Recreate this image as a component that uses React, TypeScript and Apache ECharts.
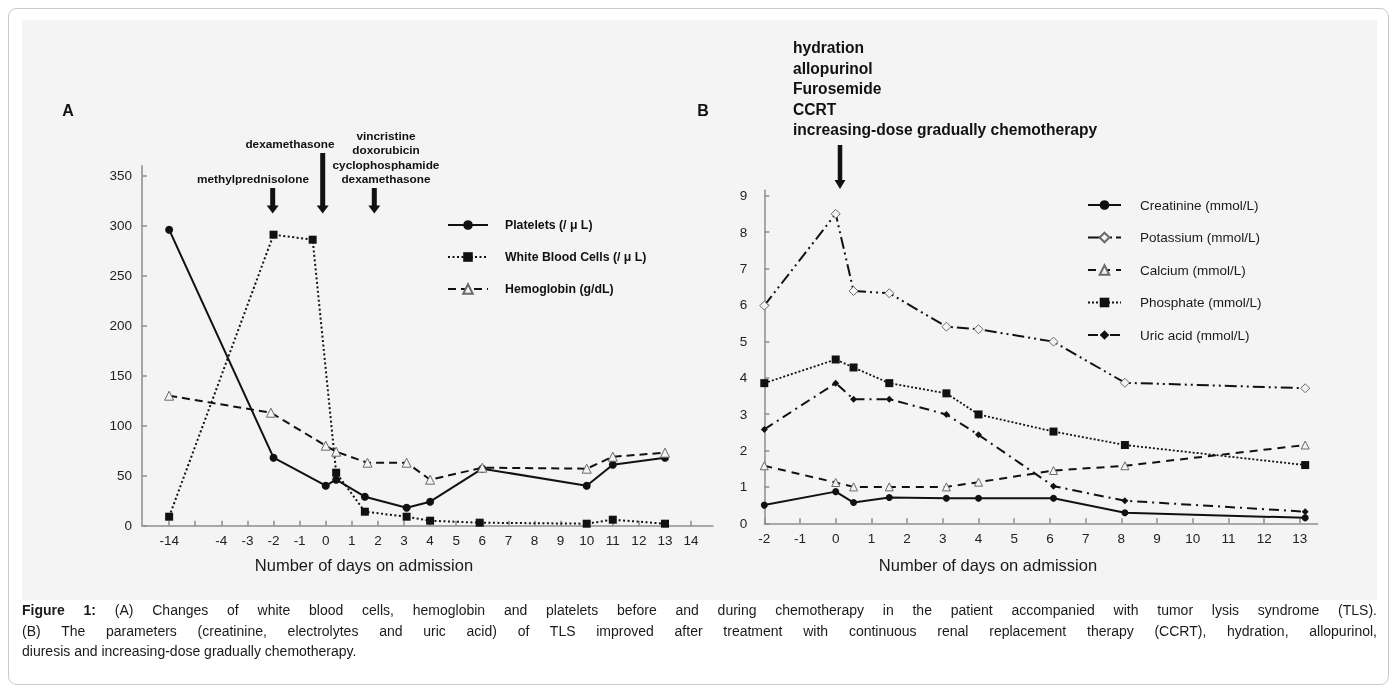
import React, { useEffect, useRef } from 'react';
import * as echarts from 'echarts';

// ---------- Panel A data ----------
const tickLabelsA = ['-14', '', '-4', '-3', '-2', '-1', '0', '1', '2', '3', '4', '5', '6', '7', '8', '9', '10', '11', '12', '13', '14'];
const yTicksA = [0, 50, 100, 150, 200, 250, 300, 350];

const plateletDays = [-14, -2, 0, 0.4, 1.5, 3.1, 4, 6, 10, 11, 13];
const plateletValues = [296, 68, 40, 46, 29, 18, 24, 57, 40, 61, 68];
const wbcDays = [-14, -2, -0.5, 0.4, 1.5, 3.1, 4, 5.9, 10, 11, 13];
const wbcValues = [9, 291, 286, 53, 14, 9, 5, 3, 2, 6, 2];
const hbDays = [-14, -2.1, 0, 0.4, 1.6, 3.1, 4, 6, 10, 11, 13];
const hbValues = [130, 113, 80, 74, 63, 63, 46, 58, 57, 69, 73];

// ---------- Panel B data ----------
const daysB = [-2, 0, 0.5, 1.5, 3.1, 4, 6.1, 8.1, 13.15];
const creatinine = [0.5, 0.87, 0.57, 0.71, 0.69, 0.69, 0.69, 0.29, 0.15];
const potassium = [5.98, 8.5, 6.38, 6.32, 5.4, 5.33, 4.99, 3.86, 3.71];
const calcium = [1.58, 1.12, 1.0, 1.0, 1.0, 1.13, 1.45, 1.58, 2.15];
const phosphate = [3.85, 4.5, 4.28, 3.85, 3.57, 2.99, 2.52, 2.15, 1.6];
const uricAcid = [2.58, 3.85, 3.41, 3.41, 2.99, 2.43, 1.02, 0.62, 0.32];
const xTicksB = [-2, -1, 0, 1, 2, 3, 4, 5, 6, 7, 8, 9, 10, 11, 12, 13];
const yTicksB = [0, 1, 2, 3, 4, 5, 6, 7, 8, 9];

const namesA = ['Platelets (/ μ L)', 'White Blood Cells (/ μ L)', 'Hemoglobin (g/dL)'];
const namesB = ['Creatinine (mmol/L)', 'Potassium (mmol/L)', 'Calcium (mmol/L)', 'Phosphate (mmol/L)', 'Uric acid (mmol/L)'];

const annotA1 = ['methylprednisolone'];
const annotA2 = ['dexamethasone'];
const annotA3 = ['vincristine', 'doxorubicin', 'cyclophosphamide', 'dexamethasone'];
const annotB = ['hydration', 'allopurinol', 'Furosemide', 'CCRT', 'increasing-dose gradually chemotherapy'];

const captionLines = [
  '(A) Changes of white blood cells, hemoglobin and platelets before and during chemotherapy in the patient accompanied with tumor lysis syndrome (TLS).',
  '(B) The parameters (creatinine, electrolytes and uric acid) of TLS improved after treatment with continuous renal replacement therapy (CCRT), hydration, allopurinol,',
  'diuresis and increasing-dose gradually chemotherapy.',
];

const FONT = '"Liberation Sans", Arial, Helvetica, sans-serif';
const INK = '#111';
const BG = '#f4f4f4';

// position of a day on panel A's uneven axis (slot index)
const dayToPosA = (d: number) => (d >= -4 ? d + 6 : 2 + (d + 4) / 5);
const pairsA = (days: number[], vals: number[]) => days.map((d, i) => [dayToPosA(d), vals[i]]);
const pairsB = (vals: number[]) => daysB.map((d, i) => [d, vals[i]]);

const axisLineStyle = { color: '#8e8e8e', width: 1.5 };
const tickLabelStyle = { color: '#222', fontSize: 13.5, fontFamily: FONT };

function arrow(x: number, y1: number, y2: number, w: number, hw: number, hh: number) {
  return [
    { type: 'rect', shape: { x: x - w / 2, y: y1, width: w, height: y2 - hh - y1 + 1 }, style: { fill: INK } },
    { type: 'polygon', shape: { points: [[x - hw / 2, y2 - hh], [x + hw / 2, y2 - hh], [x, y2]] }, style: { fill: INK } },
  ];
}

function textLines(lines: string[], x: number, y0: number, dy: number, font: string, align: string) {
  return lines.map((t, i) => ({
    type: 'text',
    style: { text: t, x, y: y0 + i * dy, fill: INK, font, align, verticalAlign: 'middle' },
  }));
}

function buildOption() {
  const labelPosA = tickLabelsA.map((t, i) => (t ? i : -99)).filter((v) => v >= 0);
  const tickPosA = tickLabelsA.map((_, i) => i);

  const lineSeries = (name: string, xi: number, data: number[][], symbol: string, size: number, dash: any, width: number, hollow: boolean) => ({
    name,
    type: 'line',
    xAxisIndex: xi,
    yAxisIndex: xi,
    data,
    symbol,
    symbolSize: size,
    showSymbol: true,
    lineStyle: { color: INK, width, type: dash },
    itemStyle: hollow ? { color: BG, borderColor: '#6a6a6a', borderWidth: 1 } : { color: INK },
    emphasis: { disabled: true },
    z: 3,
  });

  const boldAnnot = `bold 11.8px ${FONT}`;
  const boldB = `bold 15.6px ${FONT}`;

  return {
    animation: false,
    grid: [
      { left: 142, top: 165.7, width: 571, height: 360 },
      { left: 764.3, top: 190.2, width: 553.4, height: 333.1 },
    ],
    xAxis: [
      {
        gridIndex: 0, type: 'value', min: -1.04, max: 20.84,
        axisLine: { show: true, onZero: false, lineStyle: axisLineStyle },
        axisTick: { show: true, inside: true, length: 5, customValues: tickPosA, lineStyle: axisLineStyle },
        axisLabel: { customValues: labelPosA, margin: 8, formatter: (v: number) => tickLabelsA[Math.round(v)] ?? '', ...tickLabelStyle },
        splitLine: { show: false },
      },
      {
        gridIndex: 1, type: 'value', min: -2, max: 13.5,
        axisLine: { show: true, onZero: false, lineStyle: axisLineStyle },
        axisTick: { show: true, inside: true, length: 5, customValues: xTicksB, lineStyle: axisLineStyle },
        axisLabel: { customValues: xTicksB, margin: 8, ...tickLabelStyle },
        splitLine: { show: false },
      },
    ],
    yAxis: [
      {
        gridIndex: 0, type: 'value', min: 0, max: 360,
        axisLine: { show: true, onZero: false, lineStyle: axisLineStyle },
        axisTick: { show: true, inside: true, length: 5, customValues: yTicksA, lineStyle: axisLineStyle },
        axisLabel: { customValues: yTicksA, margin: 10, ...tickLabelStyle },
        splitLine: { show: false },
      },
      {
        gridIndex: 1, type: 'value', min: 0, max: 9.15,
        axisLine: { show: true, onZero: false, lineStyle: axisLineStyle },
        axisTick: { show: true, inside: true, length: 5, customValues: yTicksB, lineStyle: axisLineStyle },
        axisLabel: { customValues: yTicksB, margin: 17, ...tickLabelStyle },
        splitLine: { show: false },
      },
    ],
    legend: [
      {
        data: namesA, left: 447, top: 219, orient: 'vertical', itemWidth: 40, itemHeight: 12, itemGap: 20, padding: 0,
        selectedMode: false,
        textStyle: { color: INK, fontWeight: 'bold', fontSize: 12.3, fontFamily: FONT, padding: [0, 0, 0, 12], lineHeight: 12 },
      },
      {
        data: namesB, left: 1087, top: 198, orient: 'vertical', itemWidth: 33, itemHeight: 12, itemGap: 18.5, padding: 0,
        selectedMode: false,
        textStyle: { color: '#1a1a1a', fontSize: 13.5, fontFamily: FONT, padding: [0, 0, 0, 14], lineHeight: 13 },
      },
    ],
    series: [
      lineSeries(namesA[0], 0, pairsA(plateletDays, plateletValues), 'circle', 8, 'solid', 2, false),
      lineSeries(namesA[1], 0, pairsA(wbcDays, wbcValues), 'rect', 8, [2, 2.5], 2, false),
      lineSeries(namesA[2], 0, pairsA(hbDays, hbValues), 'triangle', 9, [8, 5], 2, true),
      lineSeries(namesB[0], 1, pairsB(creatinine), 'circle', 7, 'solid', 2, false),
      lineSeries(namesB[1], 1, pairsB(potassium), 'diamond', 9, [12, 4, 2, 4, 2, 4], 2, true),
      lineSeries(namesB[2], 1, pairsB(calcium), 'triangle', 8, [8, 6], 2, true),
      lineSeries(namesB[3], 1, pairsB(phosphate), 'rect', 8, [2, 2], 1.8, false),
      lineSeries(namesB[4], 1, pairsB(uricAcid), 'diamond', 7, [10, 5, 2, 5], 2, false),
    ],
    graphic: [
      { type: 'rect', z: -10, shape: { x: 8.5, y: 8.5, width: 1380, height: 676, r: 8 }, style: { fill: '#fff', stroke: '#c9c9c9', lineWidth: 1 } },
      { type: 'rect', z: -9, shape: { x: 22, y: 20, width: 1355, height: 580 }, style: { fill: BG } },
      { type: 'text', style: { text: 'A', x: 68, y: 110, fill: INK, font: `bold 16px ${FONT}`, align: 'center', verticalAlign: 'middle' } },
      { type: 'text', style: { text: 'B', x: 703, y: 110, fill: INK, font: `bold 16px ${FONT}`, align: 'center', verticalAlign: 'middle' } },
      ...textLines(annotA1, 253, 179, 14.5, boldAnnot, 'center'),
      ...textLines(annotA2, 290, 144, 14.5, boldAnnot, 'center'),
      ...textLines(annotA3, 386, 135.5, 14.6, boldAnnot, 'center'),
      ...arrow(272.7, 188, 213.5, 5, 12, 8),
      ...arrow(322.7, 153, 213.5, 5, 12, 8),
      ...arrow(374.3, 188, 213.5, 5, 12, 8),
      ...textLines(annotB, 793, 47.5, 20.5, boldB, 'left'),
      ...arrow(840, 145, 189, 4.5, 11, 9),
      { type: 'text', style: { text: 'Number of days on admission', x: 364, y: 564.5, fill: '#1a1a1a', font: `16.5px ${FONT}`, align: 'center', verticalAlign: 'middle' } },
      { type: 'text', style: { text: 'Number of days on admission', x: 988, y: 564.5, fill: '#1a1a1a', font: `16.5px ${FONT}`, align: 'center', verticalAlign: 'middle' } },
    ],
  };
}

export default function App() {
  const ref = useRef<HTMLDivElement>(null);
  useEffect(() => {
    const chart = echarts.init(ref.current as HTMLDivElement, null, { renderer: 'svg' });
    chart.setOption(buildOption() as any);
    return () => chart.dispose();
  }, []);
  const lineStyle: React.CSSProperties = {
    fontFamily: FONT, fontSize: 14, lineHeight: '20.5px', color: '#1a1a1a', whiteSpace: 'nowrap',
  };
  return (
    <>
      <div ref={ref} style={{ position: 'fixed', left: 0, top: 0, width: 1397, height: 693 }} />
      <div style={{ position: 'fixed', left: 22, top: 600, width: 1355 }}>
        <div style={{ ...lineStyle, whiteSpace: 'normal', textAlign: 'justify', textAlignLast: 'justify' }}>
          <b>Figure 1:</b> {captionLines[0]}
        </div>
        <div style={{ ...lineStyle, whiteSpace: 'normal', textAlign: 'justify', textAlignLast: 'justify' }}>
          {captionLines[1]}
        </div>
        <div style={lineStyle}>{captionLines[2]}</div>
      </div>
    </>
  );
}
